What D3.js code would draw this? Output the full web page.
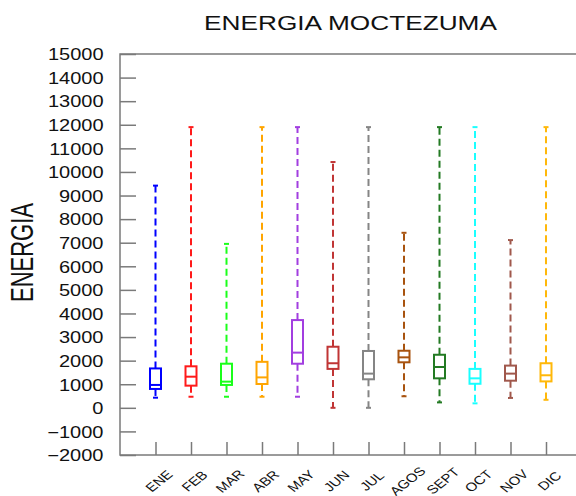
<!DOCTYPE html>
<html>
<head>
<meta charset="utf-8">
<script src="https://cdn.jsdelivr.net/npm/d3@7"></script>
<style>
  body { margin: 0; background: #fff; }
  svg { display: block; font-family: "Liberation Sans", Arial, sans-serif; }
</style>
</head>
<body>
<svg width="576" height="496"></svg>
<script>
const months = ["ENE", "FEB", "MAR", "ABR", "MAY", "JUN", "JUL", "AGOS", "SEPT", "OCT", "NOV", "DIC"];
const whiskerLow = [430, 470, 470, 470, 470, 0, 0, 490, 230, 190, 420, 340];
const q1 = [800, 940, 970, 1010, 1870, 1650, 1210, 1930, 1250, 1020, 1150, 1120];
const median = [970, 1320, 1110, 1290, 2340, 1890, 1450, 2140, 1730, 1250, 1450, 1380];
const q3 = [1670, 1760, 1870, 1950, 3720, 2590, 2410, 2420, 2250, 1650, 1790, 1890];
const whiskerHigh = [9420, 11900, 6950, 11900, 11900, 10420, 11900, 7420, 11900, 11900, 7110, 11900];
const yTicks = d3.range(-2000, 15001, 1000);

const colors = ["#0000ff", "#ff1a1a", "#1aff1a", "#ffa500", "#a23ee0", "#c03535", "#858585",
    "#a8530f", "#237a23", "#1affff", "#a0584c", "#ffb80a"];

const svg = d3.select("svg");
const stretch = 1.25;

const area = { left: 120, right: 581.5, top: 54, bottom: 455 };

const scaleX = d3.scaleLinear().domain([0, 13]).range([area.left, area.right]);
const scaleY = d3.scaleLinear().domain([-2000, 15000]).range([area.bottom, area.top]);

const axisColor = "#7a7a7a";

// frame
svg.append("rect")
    .attr("x", area.left)
    .attr("y", area.top)
    .attr("width", area.right - area.left)
    .attr("height", area.bottom - area.top)
    .attr("fill", "none")
    .attr("stroke", axisColor)
    .attr("stroke-width", 1.5);

// y axis, ticks pointing inward
const gy = svg.append("g")
    .attr("transform", `translate(${area.left},0)`)
    .call(d3.axisLeft(scaleY).tickValues(yTicks).tickSizeInner(-16).tickSizeOuter(0).tickFormat(d3.format("d")));
gy.select(".domain").remove();
gy.selectAll("line").attr("stroke", axisColor).attr("stroke-width", 1.5);
gy.selectAll("text")
    .attr("x", 0)
    .attr("dy", "0.36em")
    .attr("fill", "#111")
    .style("font-size", "16px")
    .style("text-anchor", "end")
    .attr("transform", `translate(-16.5,0) scale(${stretch},1)`);

// x axis ticks pointing up
const gx = svg.append("g")
    .attr("transform", `translate(0,${area.bottom})`)
    .call(d3.axisBottom(scaleX).tickValues(d3.range(1, 13)).tickSizeInner(-13).tickSizeOuter(0).tickFormat((d) => months[d - 1]));
gx.select(".domain").remove();
gx.selectAll("line").attr("stroke", axisColor).attr("stroke-width", 1.5);
gx.selectAll("text")
    .attr("x", 0)
    .attr("y", 0)
    .attr("dy", "0.35em")
    .attr("fill", "#111")
    .style("font-size", "12px")
    .style("text-anchor", "middle")
    .attr("transform", `translate(3,26) scale(${stretch},1) rotate(-45)`);

// boxes
const boxW = 11;
const capW = 5;
const boxes = svg.append("g")
    .selectAll("g")
    .data(months)
    .join("g")
    .attr("stroke", (d, i) => colors[i])
    .attr("stroke-width", 2)
    .attr("fill", "none");

boxes.append("line")
    .attr("x1", (d, i) => scaleX(i + 1))
    .attr("x2", (d, i) => scaleX(i + 1))
    .attr("y1", (d, i) => scaleY(q3[i]))
    .attr("y2", (d, i) => scaleY(whiskerHigh[i]))
    .attr("stroke-dasharray", "7,4");

boxes.append("line")
    .attr("x1", (d, i) => scaleX(i + 1))
    .attr("x2", (d, i) => scaleX(i + 1))
    .attr("y1", (d, i) => scaleY(q1[i]))
    .attr("y2", (d, i) => scaleY(whiskerLow[i]))
    .attr("stroke-dasharray", "7,4");

boxes.append("line")
    .attr("x1", (d, i) => scaleX(i + 1) - capW / 2)
    .attr("x2", (d, i) => scaleX(i + 1) + capW / 2)
    .attr("y1", (d, i) => scaleY(whiskerHigh[i]))
    .attr("y2", (d, i) => scaleY(whiskerHigh[i]));

boxes.append("line")
    .attr("x1", (d, i) => scaleX(i + 1) - capW / 2)
    .attr("x2", (d, i) => scaleX(i + 1) + capW / 2)
    .attr("y1", (d, i) => scaleY(whiskerLow[i]))
    .attr("y2", (d, i) => scaleY(whiskerLow[i]));

boxes.append("rect")
    .attr("x", (d, i) => scaleX(i + 1) - boxW / 2)
    .attr("y", (d, i) => scaleY(q3[i]))
    .attr("width", boxW)
    .attr("height", (d, i) => scaleY(q1[i]) - scaleY(q3[i]));

boxes.append("line")
    .attr("x1", (d, i) => scaleX(i + 1) - boxW / 2)
    .attr("x2", (d, i) => scaleX(i + 1) + boxW / 2)
    .attr("y1", (d, i) => scaleY(median[i]))
    .attr("y2", (d, i) => scaleY(median[i]));

// title
const title = svg.append("text")
    .attr("fill", "#111")
    .style("font-size", "21px")
    .style("text-anchor", "middle")
    .text("ENERGIA MOCTEZUMA");
const titleScale = 293 / title.node().getComputedTextLength();
title.attr("transform", `translate(350.5,30) scale(${titleScale},1)`);

// y label
svg.append("text")
    .attr("fill", "#111")
    .style("font-size", "22px")
    .style("text-anchor", "middle")
    .attr("transform", "translate(32.5,252.5) scale(1.42,1) rotate(-90)")
    .text("ENERGIA");
</script>
</body>
</html>
